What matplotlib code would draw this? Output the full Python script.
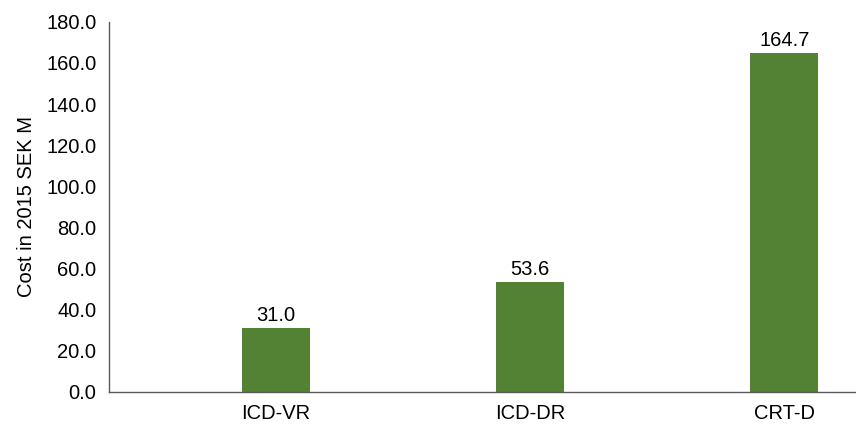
import matplotlib.pyplot as plt

categories = ["ICD-VR", "ICD-DR", "CRT-D"]
costs = [31.0, 53.6, 164.7]
y_ticks = [0, 20, 40, 60, 80, 100, 120, 140, 160, 180]

plt.rcParams['font.family'] = ['Liberation Sans', 'DejaVu Sans']
fs = 14.5

fig = plt.figure(figsize=(8.56, 4.24), dpi=100)
ax = fig.add_axes([0.1273, 0.0755, 0.872, 0.873])

x = list(range(len(categories)))
bars = ax.bar(x, costs, width=0.268, color="#548235")
for b, v in zip(bars, costs):
    ax.text(b.get_x() + b.get_width() / 2, v + 1.5, f"{v:.1f}",
            ha="center", va="bottom", fontsize=fs, color="#000000")

ax.set_xlim(-0.657, 2.28)
ax.set_ylim(0, 180)
ax.set_yticks(y_ticks)
ax.set_yticklabels([f"{t:.1f}" for t in y_ticks], fontsize=fs)
ax.set_xticks(x)
ax.set_xticklabels(categories, fontsize=fs)
ax.tick_params(axis="y", length=0, pad=9)
ax.tick_params(axis="x", length=0, pad=9)
ax.set_ylabel("Cost in 2015 SEK M", fontsize=fs, labelpad=7)

for s in ["top", "right"]:
    ax.spines[s].set_visible(False)
for s in ["left", "bottom"]:
    ax.spines[s].set_color("#595959")
    ax.spines[s].set_linewidth(1)

fig.savefig("out.png", dpi=100)
